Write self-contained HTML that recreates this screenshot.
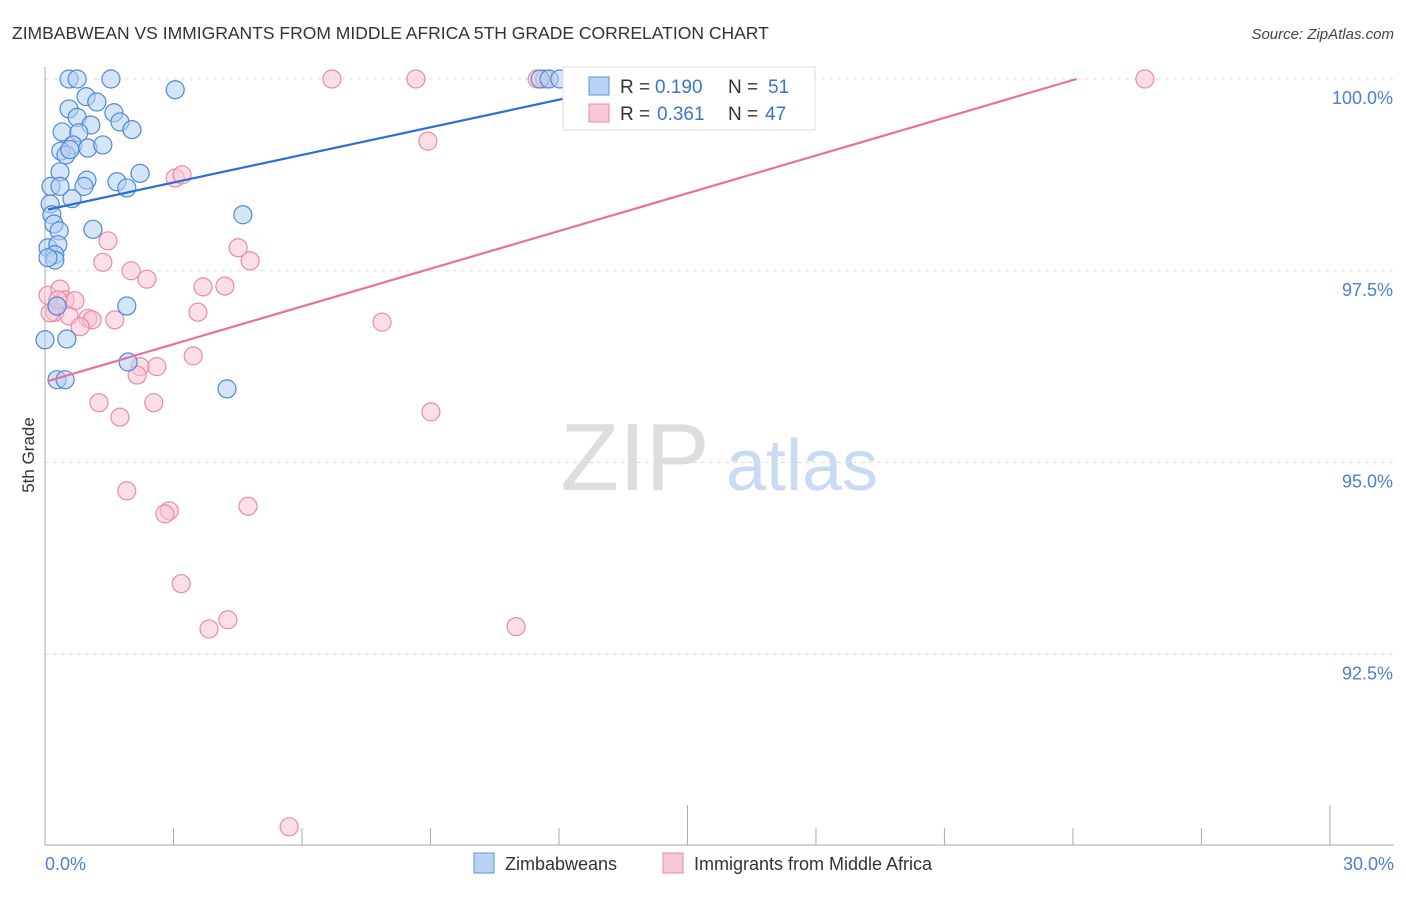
<!DOCTYPE html>
<html><head><meta charset="utf-8"><style>
body{margin:0;background:#fff;font-family:"Liberation Sans",sans-serif;}
svg text{font-family:"Liberation Sans",sans-serif;}
</style></head><body>
<svg id="chart" width="1406" height="892" xmlns="http://www.w3.org/2000/svg">
<text x="12" y="39" font-size="17.5" fill="#333">ZIMBABWEAN VS IMMIGRANTS FROM MIDDLE AFRICA 5TH GRADE CORRELATION CHART</text>
<text x="1394" y="39" font-size="15" fill="#444" font-style="italic" text-anchor="end">Source: ZipAtlas.com</text>
<g>
<text x="635" y="490" font-size="96" fill="#ddd" font-family="Liberation Serif,serif" text-anchor="middle">ZIP</text>
<text x="802" y="490" font-size="72" fill="#c9dbf2" text-anchor="middle">atlas</text>
</g>
<g id="grid"></g>
<g id="axes"></g>
<g id="pts"></g>
<g id="lines"></g>
<text transform="translate(34,455) rotate(-90)" font-size="17" fill="#333" text-anchor="middle">5th Grade</text>
<text x="45" y="870" font-size="18" fill="#4a7fd4">0.0%</text>
<text x="1394" y="870" font-size="18" fill="#4a7fd4" text-anchor="end">30.0%</text>
<g>
<rect x="563" y="67" width="252" height="63" fill="#fff" stroke="#ddd"/>
<rect x="589" y="77" width="20" height="18" fill="#b8d3f4" stroke="#5b92dc"/>
<text x="620" y="93" font-size="19" fill="#333">R = </text><text x="655" y="93" font-size="19" fill="#3a75d0">0.190</text>
<text x="728" y="93" font-size="19" fill="#333">N = </text><text x="768" y="93" font-size="19" fill="#3a75d0">51</text>
<rect x="589" y="104" width="20" height="18" fill="#f9c8d6" stroke="#e88aa6"/>
<text x="620" y="120" font-size="19" fill="#333">R = </text><text x="657" y="120" font-size="19" fill="#3a75d0">0.361</text>
<text x="728" y="120" font-size="19" fill="#333">N = </text><text x="765" y="120" font-size="19" fill="#3a75d0">47</text>
</g>
<g>
<rect x="474" y="853" width="20" height="20" fill="#b8d3f4" stroke="#5b92dc"/>
<text x="505" y="870" font-size="18" fill="#333">Zimbabweans</text></g>
<g>
<rect x="663" y="853" width="20" height="20" fill="#f9c8d6" stroke="#e88aa6"/>
<text x="694" y="870" font-size="18" fill="#333">Immigrants from Middle Africa</text></g>
</svg>
<script>
const yTicks=[100,97.5,95,92.5];
const yTickLabels=["100.0%","97.5%","95.0%","92.5%"];
const xTicks=[0,3,6,9,12,15,18,21,24,27,30];
const blueX=[0.56,0.75,1.54,3.04,0.96,1.21,0.56,1.61,0.75,1.75,1.07,2.03,0.40,0.79,0.65,1.00,0.37,0.49,2.22,0.35,0.98,0.91,1.68,1.91,0.14,0.63,0.12,0.16,4.62,0.21,0.33,1.12,0.07,0.30,0.23,0.23,0.07,1.91,0.28,0.0,0.51,1.94,0.28,0.47,4.25,11.56,11.77,12.02,1.35,0.35,0.58];
const blueY=[100,100,100,99.86,99.77,99.70,99.61,99.56,99.50,99.44,99.40,99.34,99.31,99.30,99.14,99.10,99.06,99.01,98.77,98.79,98.68,98.60,98.66,98.58,98.60,98.44,98.37,98.23,98.23,98.11,98.02,98.04,97.80,97.84,97.71,97.64,97.67,97.04,97.04,96.60,96.61,96.31,96.08,96.08,95.96,100,100,100,99.14,98.60,99.08];
const pinkX=[6.70,8.66,11.49,11.67,25.68,8.94,3.04,3.20,1.47,4.51,4.79,1.35,2.01,2.38,3.69,4.20,0.07,0.35,0.47,0.70,0.23,3.57,0.56,1.00,1.10,1.63,7.87,0.82,3.46,2.22,2.61,2.15,1.26,2.54,9.01,1.75,1.91,4.74,2.90,2.80,3.18,3.83,4.27,11.00,5.70,0.12,0.30];
const pinkY=[100,100,100,100,100,99.19,98.71,98.75,97.89,97.80,97.63,97.61,97.50,97.39,97.29,97.30,97.18,97.26,97.12,97.11,96.96,96.96,96.91,96.88,96.86,96.86,96.83,96.77,96.39,96.25,96.25,96.14,95.78,95.78,95.66,95.59,94.63,94.43,94.37,94.33,93.42,92.83,92.95,92.86,90.25,96.95,97.12];
const blueFit=[98.29,0.12];
const pinkFit=[96.05,0.164];
const NS="http://www.w3.org/2000/svg";
const X=v=>45+v*42.83, Y=v=>79+(100-v)*76.7;
function mk(tag,attrs,parent){const e=document.createElementNS(NS,tag);for(const k in attrs)e.setAttribute(k,attrs[k]);document.getElementById(parent).appendChild(e);return e;}
yTicks.forEach((t,i)=>{
 const l=mk('line',{x1:45,x2:1394,y1:Y(t),y2:Y(t),stroke:'#ddd','stroke-dasharray':'4,4'},'grid');
 
 
 const tx=mk('text',{x:1393,y:Y(t)+25,'font-size':18,fill:'#4a7fd4','text-anchor':'end'},'grid');
 tx.textContent=yTickLabels[i];
 
 
});
let a=mk('line',{x1:45,x2:45,y1:67,y2:845,stroke:'#aaa'},'axes');


a=mk('line',{x1:45,x2:1394,y1:845,y2:845,stroke:'#aaa'},'axes');


xTicks.forEach(t=>{
 const tall=(t===15||t===30);
 const l=mk('line',{x1:X(t),x2:X(t),y1:tall?805:828,y2:845,stroke:'#aaa'},'axes');
 
 
});
function pts(xs,ys,fill,stroke,name){xs.forEach((x,i)=>{
 const c=mk('circle',{cx:X(x),cy:Y(ys[i]),r:9,fill:fill,'fill-opacity':0.55,stroke:stroke,'stroke-width':1.2},'pts');
 
 
});}
pts(pinkX,pinkY,'#f9c3d3','#e98aa8','immigrants-point');
pts(blueX,blueY,'#b3cff2','#4f88d8','zimbabwean-point');
function fit(f,color,name){
 const x1=0.07,x2=(100-f[0])/f[1];
 const l=mk('line',{x1:X(x1),y1:Y(f[0]+f[1]*x1),x2:X(x2),y2:Y(100),stroke:color,'stroke-width':2.2},'lines');
 
 
}
fit(blueFit,'#2b6fd6','zimbabwean-trend-line');
fit(pinkFit,'#e8709a','immigrants-trend-line');
</script>
</body></html>
